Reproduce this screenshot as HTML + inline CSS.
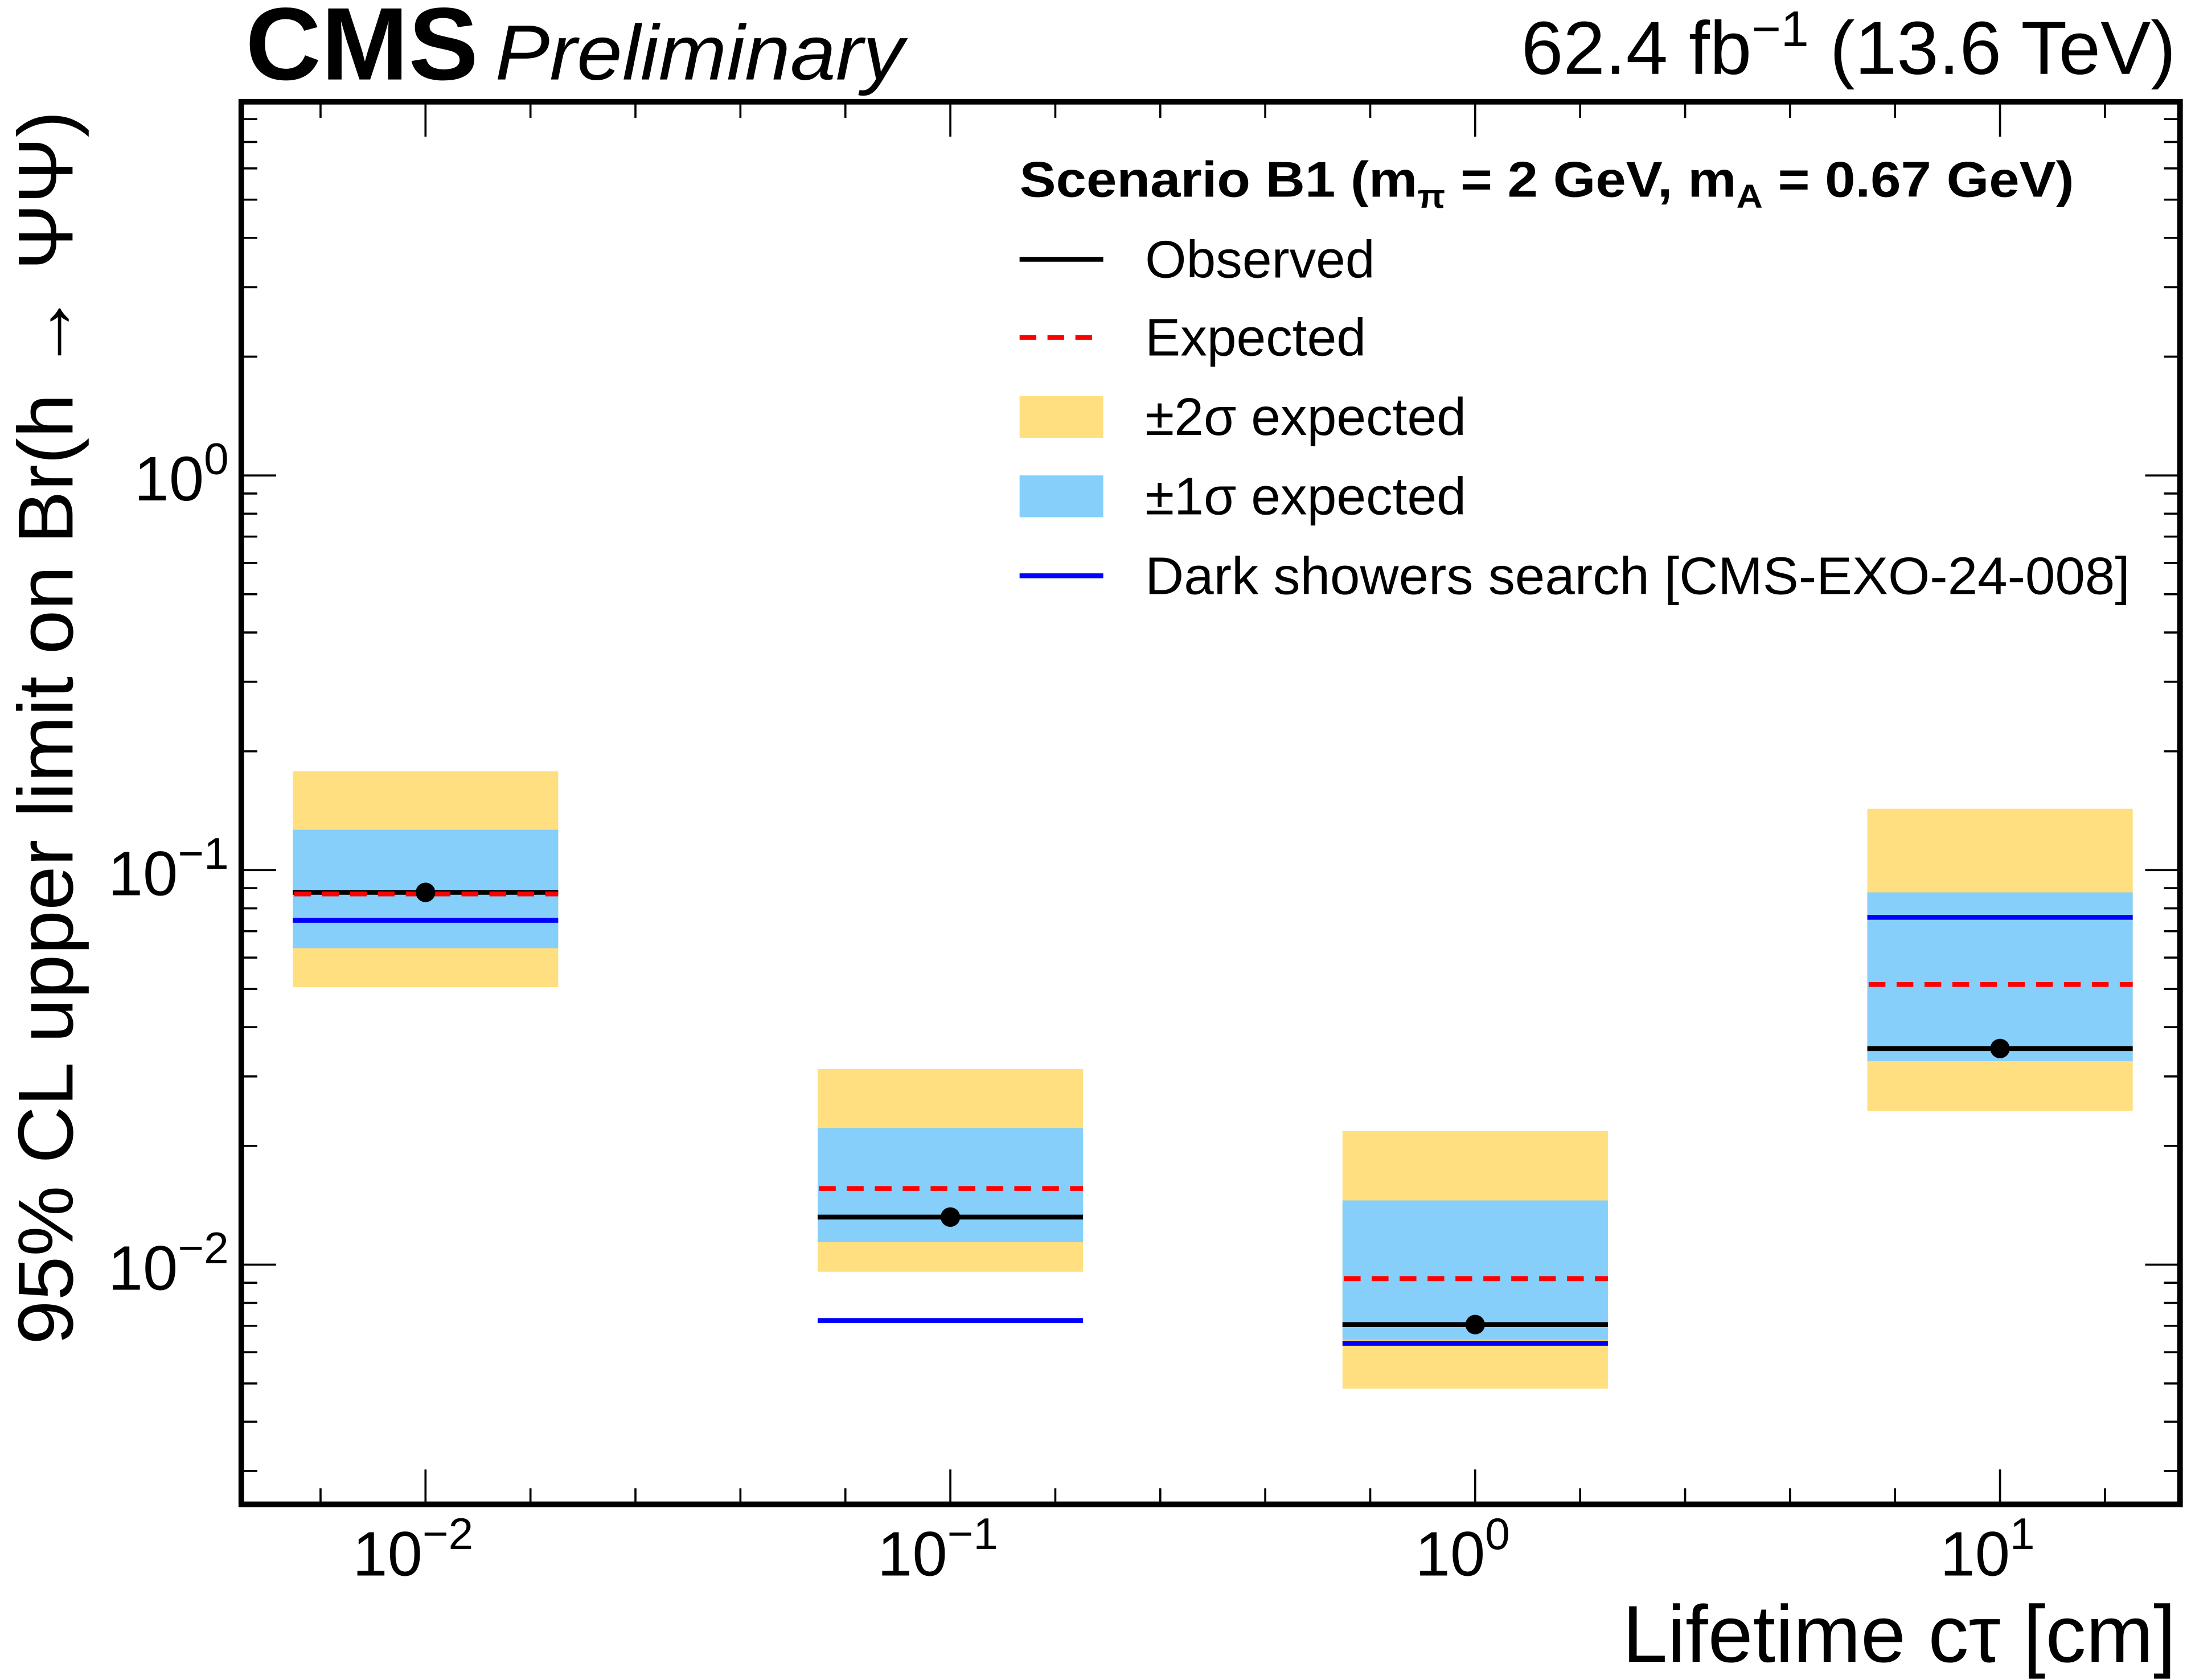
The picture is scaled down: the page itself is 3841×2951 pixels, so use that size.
<!DOCTYPE html>
<html><head><meta charset="utf-8"><style>
html,body{margin:0;padding:0;background:#fff;}
svg{display:block;font-family:"Liberation Sans",sans-serif;}
</style></head><body>
<svg id="chart" width="3841" height="2951" viewBox="0 0 1568 1205" preserveAspectRatio="none" xmlns="http://www.w3.org/2000/svg">
<g id="marks"></g>
<g id="axes"></g>
<rect x="173" y="73" width="1390" height="1006" fill="none" stroke="#000" stroke-width="4"/>
<text x="176" y="57" font-size="74" font-weight="bold" textLength="167" lengthAdjust="spacingAndGlyphs">CMS</text>
<text x="355" y="57" font-size="56" font-style="italic" textLength="293" lengthAdjust="spacingAndGlyphs">Preliminary</text>
<text x="1560" y="53" font-size="54" text-anchor="end">62.4 fb<tspan dy="-20" font-size="36">−1</tspan><tspan dy="20"> (13.6 TeV)</tspan></text>
<text x="1560" y="1192" font-size="58" text-anchor="end">Lifetime cτ [cm]</text>
<text transform="translate(52,522) rotate(-90)" font-size="56" text-anchor="middle" textLength="885" lengthAdjust="spacingAndGlyphs">95% CL upper limit on Br(h → ΨΨ)</text>
<g>
<text x="731" y="141" font-size="36" font-weight="bold" textLength="756" lengthAdjust="spacingAndGlyphs">Scenario B1 (m<tspan dy="8" font-size="24">π</tspan><tspan dy="-8"> =  2 GeV, m</tspan><tspan dy="8" font-size="24">A</tspan><tspan dy="-8"> =  0.67 GeV)</tspan></text>
<line x1="731" x2="791" y1="186" y2="186" stroke="#000" stroke-width="3.5"/>
<text x="821" y="199" font-size="38">Observed</text>
<line x1="731" x2="791" y1="242" y2="242" stroke="#f00" stroke-width="3.5" stroke-dasharray="12,8"/>
<text x="821" y="255" font-size="38">Expected</text>
<rect x="731" y="284" width="60" height="30" fill="#ffdf7f"/>
<text x="821" y="312" font-size="38">±2σ expected</text>
<rect x="731" y="341" width="60" height="30" fill="#85cffa"/>
<text x="821" y="369" font-size="38">±1σ expected</text>
<line x1="731" x2="791" y1="413" y2="413" stroke="#00f" stroke-width="3.5"/>
<text x="821" y="426" font-size="38" textLength="706" lengthAdjust="spacingAndGlyphs">Dark showers search [CMS-EXO-24-008]</text>
</g>
</svg>
<script>
const lifetimes = [0.01, 0.1, 1, 10];
const observed = [0.0878, 0.0132, 0.00705, 0.0353];
const expected = [0.0870, 0.0156, 0.00922, 0.0513];
const sigma1Low = [0.0634, 0.0114, 0.00645, 0.0328];
const sigma1High = [0.1265, 0.0222, 0.01455, 0.0878];
const sigma2Low = [0.0505, 0.0096, 0.00485, 0.0245];
const sigma2High = [0.178, 0.0313, 0.0218, 0.143];
const darkShowers = [0.0746, 0.00722, 0.00632, 0.0759];
const xTickLabels = ["−2", "−1", "0", "1"];
const yTickLabels = ["−2", "−1", "0"];

const NS = "http://www.w3.org/2000/svg";
const L = 173, R = 1563, T = 73, B = 1079;
const xmin = -2.351, xmax = 1.343, ymin = Math.log10(0.00247), ymax = Math.log10(8.85);
function xs(v){ return L + (Math.log10(v) - xmin) / (xmax - xmin) * (R - L); }
function ys(v){ return B - (Math.log10(v) - ymin) / (ymax - ymin) * (B - T); }
function mk(tag, attrs, parent){ const e = document.createElementNS(NS, tag); for (const k in attrs) e.setAttribute(k, attrs[k]); parent.appendChild(e); return e; }
const marks = document.getElementById('marks');
const axes = document.getElementById('axes');
const hw = 1.79;
lifetimes.forEach((c, i) => {
  const x1 = xs(c / hw), x2 = xs(c * hw);
  let r = mk('rect', {x: x1, y: ys(sigma2High[i]), width: x2 - x1, height: ys(sigma2Low[i]) - ys(sigma2High[i]), fill: '#ffdf7f'}, marks);
  
  
  r = mk('rect', {x: x1, y: ys(sigma1High[i]), width: x2 - x1, height: ys(sigma1Low[i]) - ys(sigma1High[i]), fill: '#85cffa'}, marks);
  
  
  let l = mk('line', {x1: x1, x2: x2, y1: ys(darkShowers[i]), y2: ys(darkShowers[i]), stroke: '#00f', 'stroke-width': 3.5}, marks);
  
  
  l = mk('line', {x1: x1, x2: x2, y1: ys(observed[i]), y2: ys(observed[i]), stroke: '#000', 'stroke-width': 3.5}, marks);
  
  
  l = mk('line', {x1: x1 + 1, x2: x2, y1: ys(expected[i]), y2: ys(expected[i]), stroke: '#f00', 'stroke-width': 3.5, 'stroke-dasharray': '12,8'}, marks);
  
  
  const p = mk('circle', {cx: xs(c), cy: ys(observed[i]), r: 7, fill: '#000'}, marks);
  
  
});
for (let d = -3; d <= 2; d++) {
  for (let k = 0; k < 5; k++) {
    const lg = d + k * 0.2;
    if (lg < xmin || lg > xmax) continue;
    const x = xs(Math.pow(10, lg)); const len = k === 0 ? 25 : 11.5;
    mk('line', {x1: x, x2: x, y1: B, y2: B - len, stroke: '#000', 'stroke-width': 1.5}, axes);
    mk('line', {x1: x, x2: x, y1: T, y2: T + len, stroke: '#000', 'stroke-width': 1.5}, axes);
  }
}
lifetimes.forEach((c, i) => {
  const t = mk('text', {x: xs(c) - 9, y: 1130, 'font-size': 45, 'text-anchor': 'middle'}, axes);
  
  
  t.textContent = '10';
  const s = mk('tspan', {dy: -19, 'font-size': 32}, t); s.textContent = xTickLabels[i];
});
for (let d = -3; d <= 0; d++) {
  for (let m = 1; m <= 9; m++) {
    const v = m * Math.pow(10, d); const lg = Math.log10(v);
    if (lg < ymin || lg > ymax) continue;
    const y = ys(v); const len = m === 1 ? 25 : 11.5;
    mk('line', {x1: L, x2: L + len, y1: y, y2: y, stroke: '#000', 'stroke-width': 1.5}, axes);
    mk('line', {x1: R, x2: R - len, y1: y, y2: y, stroke: '#000', 'stroke-width': 1.5}, axes);
  }
}
[0.01, 0.1, 1].forEach((v, i) => {
  const t = mk('text', {x: 164, y: ys(v) + 18, 'font-size': 45, 'text-anchor': 'end'}, axes);
  
  
  t.textContent = '10';
  const s = mk('tspan', {dy: -19, 'font-size': 32}, t); s.textContent = yTickLabels[i];
});
</script>
</body></html>
